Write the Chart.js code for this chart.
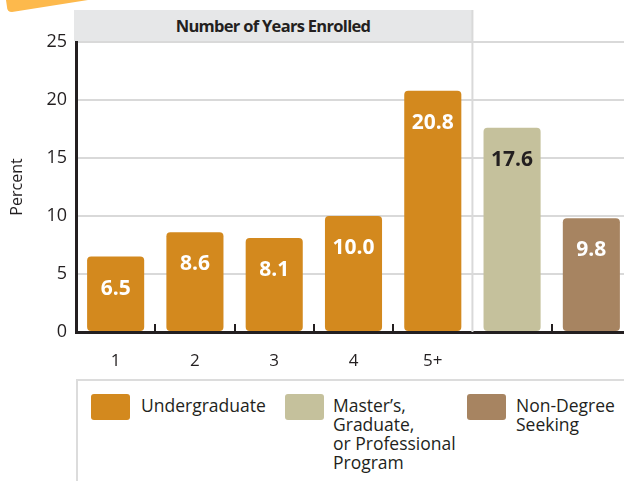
<!DOCTYPE html>
<html>
<head>
<meta charset="utf-8">
<script src="https://cdn.jsdelivr.net/npm/chart.js@4"></script>
<style>
  html, body { margin: 0; padding: 0; background: #fff; overflow: hidden; }
  body { width: 624px; height: 481px; position: relative; font-family: "Open Sans", sans-serif; color: #231f20; }
  #header {
    position: absolute; left: 74px; top: 10px; width: 398px; height: 31px;
    background: #e6e7e8; font-weight: 700; font-size: 16.5px; letter-spacing: -0.7px;
    text-align: center; line-height: 32px;
  }
  #chart { position: absolute; left: 0; top: 0; }
  #legend {
    position: absolute; left: 76px; top: 379px; width: 560px; height: 110px;
    border-top: 2px solid #dcdcdc; border-left: 2px solid #dcdcdc;
  }
  .sw { position: absolute; top: 13px; width: 39px; height: 26px; border-radius: 3px; }
  .lab { position: absolute; top: 15px; font-size: 17.5px; line-height: 19px; }
</style>
</head>
<body>
<div id="header">Number of Years Enrolled</div>
<canvas id="chart" width="632" height="378"></canvas>
<div id="legend"></div>
<script>
const CATEGORIES = ['1', '2', '3', '4', '5+', '', ''];
const VALUES = [6.5, 8.6, 8.1, 10.0, 20.8, 17.6, 9.8];
const GROUPS = ['ug', 'ug', 'ug', 'ug', 'ug', 'grad', 'nd'];
const Y_TICKS = [0, 5, 10, 15, 20, 25];

const COLORS = { ug: '#d3891e', grad: '#c5c19c', nd: '#a78461' };
const LABEL_COLORS = { ug: '#ffffff', grad: '#231f20', nd: '#ffffff' };
const LEGEND = [
  { key: 'ug', text: 'Undergraduate', sw: 13, lab: 63 },
  { key: 'grad', text: 'Master’s,<br>Graduate,<br>or Professional<br>Program', sw: 207, lab: 255 },
  { key: 'nd', text: 'Non-Degree<br>Seeking', sw: 389, lab: 438 },
];

// legend built as plain html
document.getElementById('legend').innerHTML = LEGEND.map(l => `
  <div class="sw" style="left:${l.sw}px;background:${COLORS[l.key]}"></div>
  <div class="lab" style="left:${l.lab}px">${l.text}</div>`).join('');

const INK = '#231f20';
const GRID = '#d9d9d9';

// orange corner tab, group separator and inward tick marks
const decor = {
  id: 'decor',
  beforeDraw(chart) {
    const ctx = chart.ctx;
    ctx.save();
    ctx.fillStyle = '#fdb94c';
    ctx.beginPath();
    ctx.moveTo(6, 0);
    ctx.lineTo(88, 0);
    ctx.lineTo(12, 12);
    ctx.quadraticCurveTo(7, 12, 7, 7);
    ctx.closePath();
    ctx.fill();
    ctx.restore();
  },
  beforeDatasetsDraw(chart) {
    const { ctx, chartArea, scales: { x } } = chart;
    const sep = (x.getPixelForValue(4) + x.getPixelForValue(5)) / 2;
    ctx.save();
    ctx.strokeStyle = GRID;
    ctx.lineWidth = 2;
    ctx.beginPath();
    ctx.moveTo(sep, 10);
    ctx.lineTo(sep, chartArea.bottom);
    ctx.stroke();
    ctx.restore();
  },
  afterDatasetsDraw(chart) {
    const { ctx, chartArea, scales: { x } } = chart;
    ctx.save();
    ctx.strokeStyle = INK;
    ctx.lineWidth = 2;
    for (let i = 1; i < CATEGORIES.length; i++) {
      if (i === 5) continue;
      const px = Math.round((x.getPixelForValue(i - 1) + x.getPixelForValue(i)) / 2);
      ctx.beginPath();
      ctx.moveTo(px, chartArea.bottom - 8);
      ctx.lineTo(px, chartArea.bottom);
      ctx.stroke();
    }
    // value labels inside the bars
    const meta = chart.getDatasetMeta(0);
    ctx.font = 'bold 21px "Open Sans"';
    ctx.textAlign = 'center';
    ctx.textBaseline = 'middle';
    meta.data.forEach((bar, i) => {
      ctx.fillStyle = LABEL_COLORS[GROUPS[i]];
      ctx.fillText(VALUES[i].toFixed(1), bar.x, bar.y + 32);
    });
    ctx.restore();
  },
};

new Chart(document.getElementById('chart'), {
  type: 'bar',
  data: {
    labels: CATEGORIES,
    datasets: [{
      data: VALUES,
      backgroundColor: GROUPS.map(g => COLORS[g]),
      borderRadius: 4,
      borderSkipped: false,
      barPercentage: 0.72,
      categoryPercentage: 1,
    }],
  },
  options: {
    responsive: false,
    animation: false,
    devicePixelRatio: 1,
    layout: { padding: { top: 42, right: 1, left: 0, bottom: 0 } },
    plugins: { legend: { display: false }, tooltip: { enabled: false } },
    scales: {
      x: {
        grid: { display: false },
        border: { color: INK, width: 3 },
        ticks: { color: INK, font: { family: 'Open Sans', size: 17 }, padding: 11, maxRotation: 0 },
        afterFit: s => { s.height = 46; },
      },
      y: {
        min: 0,
        max: 25,
        afterBuildTicks: s => { s.ticks = Y_TICKS.map(v => ({ value: v })); },
        grid: { color: GRID, lineWidth: 2, drawTicks: false },
        border: { color: INK, width: 3 },
        ticks: { color: INK, font: { family: 'Open Sans', size: 18 }, padding: 9 },
        title: { display: true, text: 'Percent', color: INK, font: { family: 'Open Sans', size: 16 }, padding: { top: 8, bottom: 0 } },
        afterFit: s => { s.width = 76; },
      },
    },
  },
  plugins: [decor],
});
</script>
</body>
</html>
